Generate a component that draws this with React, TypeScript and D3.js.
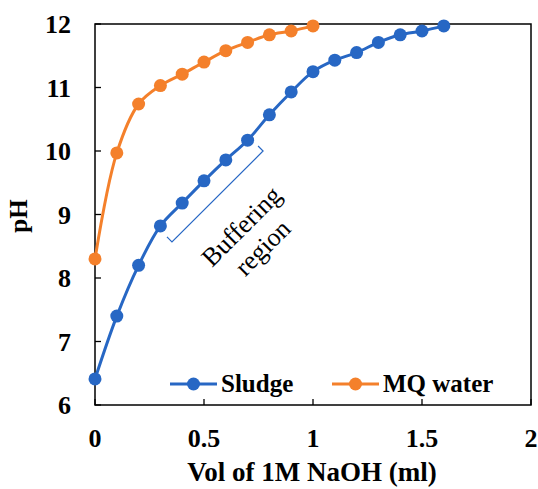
import React, { useRef, useEffect } from "react";
import * as d3 from "d3";

const volumes = [0, 0.1, 0.2, 0.3, 0.4, 0.5, 0.6, 0.7, 0.8, 0.9, 1.0, 1.1, 1.2, 1.3, 1.4, 1.5, 1.6];
const sludgePH = [6.41, 7.4, 8.2, 8.82, 9.18, 9.53, 9.86, 10.17, 10.57, 10.93, 11.25, 11.43, 11.55, 11.71, 11.83, 11.89, 11.97];
const waterPH = [8.3, 9.97, 10.74, 11.03, 11.21, 11.4, 11.58, 11.71, 11.83, 11.89, 11.97];
const xTicks = [0, 0.5, 1, 1.5, 2];
const yTicks = [6, 7, 8, 9, 10, 11, 12];
const seriesNames = ["Sludge", "MQ water"];
const seriesColors = ["#2767c4", "#f4802b"];
// bracket ends for the buffering region (vol, pH)
const bracketStart = [0.353, 8.57];
const bracketEnd = [0.771, 10.0];

const App = () => {
  const ref = useRef<SVGSVGElement>(null);

  const width = 538;
  const height = 489;

  useEffect(() => {
    const svg = d3.select(ref.current);
    svg.selectAll("*").remove();

    const margin = { top: 24, right: 7, bottom: 84, left: 95 };
    const innerWidth = width - margin.left - margin.right;
    const innerHeight = height - margin.top - margin.bottom;

    const x = d3.scaleLinear().domain([0, 2]).range([0, innerWidth]);
    const y = d3.scaleLinear().domain([6, 12]).range([innerHeight, 0]);

    const g = svg.append("g").attr("transform", `translate(${margin.left},${margin.top})`);
    const font = "'Liberation Serif', 'Times New Roman', serif";

    // frame
    g.append("rect")
      .attr("width", innerWidth)
      .attr("height", innerHeight)
      .attr("fill", "none")
      .attr("stroke", "#000")
      .attr("stroke-width", 1.5);

    // ticks pointing inward
    g.selectAll(".xtick")
      .data(xTicks)
      .enter()
      .append("line")
      .attr("x1", (d) => x(d))
      .attr("x2", (d) => x(d))
      .attr("y1", innerHeight)
      .attr("y2", innerHeight - 6)
      .attr("stroke", "#000")
      .attr("stroke-width", 1.3);

    g.selectAll(".ytick")
      .data(yTicks)
      .enter()
      .append("line")
      .attr("x1", 0)
      .attr("x2", 6)
      .attr("y1", (d) => y(d))
      .attr("y2", (d) => y(d))
      .attr("stroke", "#000")
      .attr("stroke-width", 1.3);

    g.selectAll(".xlab")
      .data(xTicks)
      .enter()
      .append("text")
      .attr("x", (d) => x(d))
      .attr("y", innerHeight + 42)
      .attr("text-anchor", "middle")
      .attr("font-family", font)
      .attr("font-weight", "bold")
      .attr("font-size", 26)
      .text((d) => String(d));

    g.selectAll(".ylab")
      .data(yTicks)
      .enter()
      .append("text")
      .attr("x", -24)
      .attr("y", (d) => y(d) + 9)
      .attr("text-anchor", "end")
      .attr("font-family", font)
      .attr("font-weight", "bold")
      .attr("font-size", 26)
      .text((d) => String(d));

    svg.append("text")
      .attr("transform", `translate(27,216) rotate(-90)`)
      .attr("text-anchor", "middle")
      .attr("font-family", font)
      .attr("font-weight", "bold")
      .attr("font-size", 25)
      .text("pH");

    svg.append("text")
      .attr("x", 312)
      .attr("y", 481)
      .attr("text-anchor", "middle")
      .attr("font-family", font)
      .attr("font-weight", "bold")
      .attr("font-size", 27)
      .text("Vol of 1M NaOH (ml)");

    const lineGen = d3
      .line<[number, number]>()
      .x((d) => x(d[0]))
      .y((d) => y(d[1]))
      .curve(d3.curveCatmullRom.alpha(0.5));

    const series = [
      volumes.map((v, i) => [v, sludgePH[i]] as [number, number]),
      volumes.slice(0, waterPH.length).map((v, i) => [v, waterPH[i]] as [number, number]),
    ];

    [1, 0].forEach((k) => {
      g.append("path")
        .attr("d", lineGen(series[k]))
        .attr("fill", "none")
        .attr("stroke", seriesColors[k])
        .attr("stroke-width", 3);
      g.selectAll(`.pt${k}`)
        .data(series[k])
        .enter()
        .append("circle")
        .attr("cx", (d) => x(d[0]))
        .attr("cy", (d) => y(d[1]))
        .attr("r", 6.5)
        .attr("fill", seriesColors[k]);
    });

    // bracket for buffering region
    const p0 = [x(bracketStart[0]), y(bracketStart[1])];
    const p1 = [x(bracketEnd[0]), y(bracketEnd[1])];
    const tk = 5;
    g.append("path")
      .attr(
        "d",
        `M${p0[0] - tk},${p0[1] - tk}L${p0[0]},${p0[1]}L${p1[0]},${p1[1]}L${p1[0] - tk},${p1[1] - tk}`
      )
      .attr("fill", "none")
      .attr("stroke", seriesColors[0])
      .attr("stroke-width", 1.2);

    const bt = g
      .append("text")
      .attr("transform", `translate(${251 - margin.left},${236 - margin.top}) rotate(-45)`)
      .attr("text-anchor", "middle")
      .attr("font-family", font)
      .attr("font-size", 26);
    bt.append("tspan").attr("x", 0).attr("y", -5).text("Buffering");
    bt.append("tspan").attr("x", 0).attr("y", 25).text("region");

    // legend
    const legendX = [170, 332];
    seriesNames.forEach((name, i) => {
      const lg = svg.append("g").attr("transform", `translate(${legendX[i]},384)`);
      lg.append("line")
        .attr("x1", 0)
        .attr("x2", 47)
        .attr("stroke", seriesColors[i])
        .attr("stroke-width", 3);
      lg.append("circle").attr("cx", 23.5).attr("r", 6.5).attr("fill", seriesColors[i]);
      lg.append("text")
        .attr("x", 51)
        .attr("y", 8)
        .attr("font-family", font)
        .attr("font-weight", "bold")
        .attr("font-size", 25)
        .text(name);
    });
  }, []);

  return (
    <svg
      ref={ref}
      width={width}
      height={height}
      style={{ position: "absolute", left: 0, top: 0, background: "#fff" }}
    ></svg>
  );
};

export default App;
